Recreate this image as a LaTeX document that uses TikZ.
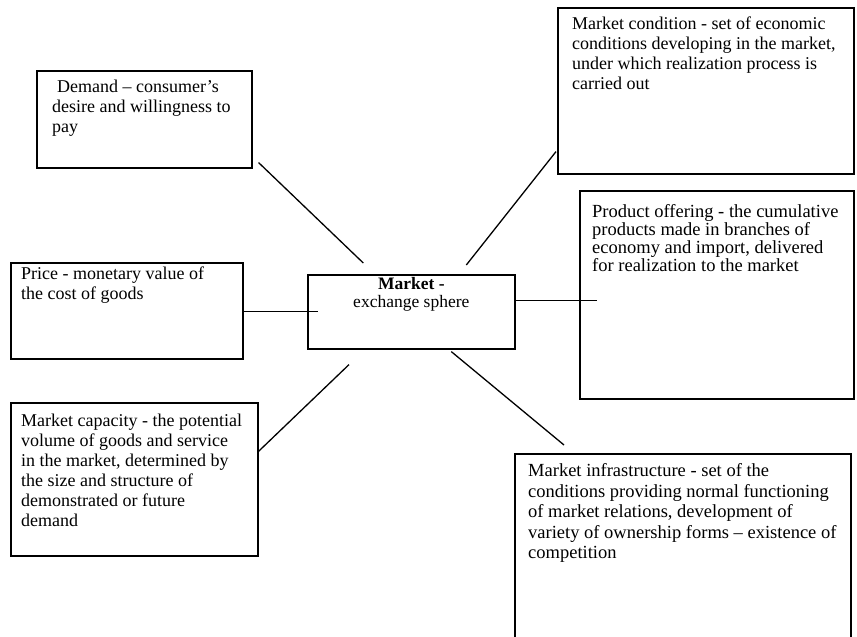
\documentclass[tikz,border=0pt]{standalone}
\usepackage{fontspec}
\setmainfont{Liberation Serif}
\usetikzlibrary{positioning}

\begin{document}
\begin{tikzpicture}[
      x=1pt, y=-1pt,
      box/.style={draw, line width=1.6pt, anchor=north west, inner sep=0pt},
      txt/.style={inner sep=0pt, align=left, font=\fontsize{18}{20}\selectfont},
      hubtxt/.style={inner sep=0pt, align=center, font=\fontsize{17.5}{18}\selectfont},
      link/.style={line width=1.3pt}
    ]
    \fill[white] (0,0) rectangle (857,637);
    \useasboundingbox (0,0) rectangle (857,637);

    \node[box, minimum width=207pt, minimum height=74pt] (market) at (307,274) {};
    \node[box, minimum width=215pt, minimum height=97pt] (demand) at (36,70) {};
    \node[box, minimum width=232pt, minimum height=96pt] (price) at (10,262) {};
    \node[box, minimum width=247pt, minimum height=153pt] (capacity) at (10,402) {};
    \node[box, minimum width=296pt, minimum height=166pt] (mcond) at (557,7) {};
    \node[box, minimum width=274pt, minimum height=208pt] (product) at (579,190) {};
    \node[box, minimum width=336pt, minimum height=202pt] (infra) at (514,453) {};

    \node[hubtxt, below=3pt of market.north] (market-txt) {\textbf{Market -}\\exchange sphere};
    \node[txt, below right=9.5pt and 16pt of demand.north west] (demand-txt)
      {\hspace*{5pt}Demand -- consumer's\\desire and willingness to\\pay};
    \node[txt, below right=4.5pt and 11pt of price.north west] (price-txt)
      {Price - monetary value of\\the cost of goods};
    \node[txt, below right=11.5pt and 11pt of capacity.north west] (capacity-txt)
      {Market capacity - the potential\\volume of goods and service\\in the market, determined by\\the size and structure of\\demonstrated or future\\demand};
    \node[txt, below right=9.5pt and 15pt of mcond.north west] (mcond-txt)
      {Market condition - set of economic\\conditions developing in the market,\\under which realization process is\\carried out};
    \node[txt, font=\fontsize{18.5}{18}\selectfont, below right=14.5pt and 13pt of product.north west] (product-txt)
      {Product offering - the cumulative\\products made in branches of\\economy and import, delivered\\for realization to the market};
    \node[txt, font=\fontsize{18.5}{20.5}\selectfont, below right=10.5pt and 14pt of infra.north west] (infra-txt)
      {Market infrastructure - set of the\\conditions providing normal functioning\\of market relations, development of\\variety of ownership forms -- existence of\\competition};

    \draw[link] ([xshift=6pt,yshift=6pt]demand.south east) -- ([xshift=-48pt,yshift=11pt]market.north);
    \draw[link] ([xshift=55pt,yshift=9pt]market.north) -- ([xshift=-1pt,yshift=23pt]mcond.south west);
    \draw[link] ([yshift=-1pt]price.east) -- ([xshift=11pt]market.west);
    \draw[link] ([yshift=11pt]market.east) -- ([xshift=18pt,yshift=-6pt]product.west);
    \draw[link] ([yshift=28pt]capacity.east) -- ([xshift=42pt,yshift=-15pt]market.south west);
    \draw[link] ([xshift=40pt,yshift=-2pt]market.south) -- ([xshift=50pt,yshift=8pt]infra.north west);
  \end{tikzpicture}
\end{document}
